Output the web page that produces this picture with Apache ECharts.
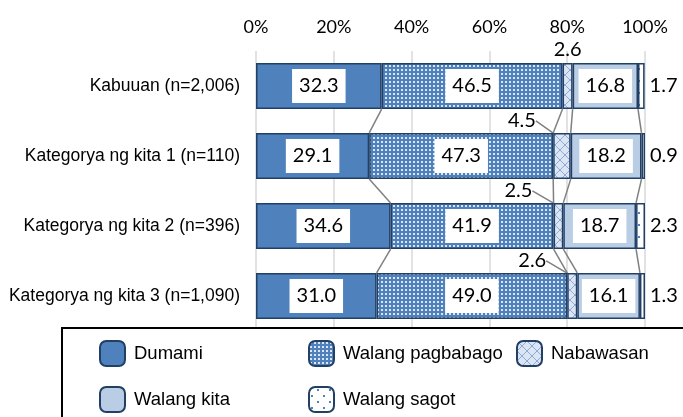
<!DOCTYPE html>
<html>
<head>
<meta charset="utf-8">
<title>Kita</title>
<script src="https://cdn.jsdelivr.net/npm/echarts@6/dist/echarts.min.js"></script>
<style>
    html, body { margin: 0; padding: 0; background: #fff; }
    #main { width: 683px; height: 417px; }
</style>
</head>
<body>
<div id="main"></div>
<script>
    var categories = ['Kabuuan (n=2,006)', 'Kategorya ng kita 1 (n=110)', 'Kategorya ng kita 2 (n=396)', 'Kategorya ng kita 3 (n=1,090)'];
    var seriesNames = ['Dumami', 'Walang pagbabago', 'Nabawasan', 'Walang kita', 'Walang sagot'];
    var dumami = [32.3, 29.1, 34.6, 31.0];
    var walangPagbabago = [46.5, 47.3, 41.9, 49.0];
    var nabawasan = [2.6, 4.5, 2.5, 2.6];
    var walangKita = [16.8, 18.2, 18.7, 16.1];
    var walangSagot = [1.7, 0.9, 2.3, 1.3];
    var xTicks = [0, 20, 40, 60, 80, 100];

    var allValues = [dumami, walangPagbabago, nabawasan, walangKita, walangSagot];

    // pattern fills (Excel-like)
    function makePattern(size, draw) {
        var c = document.createElement('canvas');
        c.width = size; c.height = size;
        draw(c.getContext('2d'));
        return {image: c, repeat: 'repeat'};
    }
    var dotsBlue = makePattern(4, function (g) {
        g.fillStyle = '#4f81bd'; g.fillRect(0, 0, 4, 4);
        g.fillStyle = 'rgba(255,255,255,0.8)'; g.fillRect(1, 1, 2, 2);
    });
    var crossLight = makePattern(10, function (g) {
        g.fillStyle = '#dce6f2'; g.fillRect(0, 0, 10, 10);
        g.strokeStyle = '#8eaad8'; g.lineWidth = 1;
        g.beginPath();
        g.moveTo(0, 0); g.lineTo(10, 10);
        g.moveTo(10, 0); g.lineTo(0, 10);
        g.stroke();
    });
    var dotsWhite = makePattern(12, function (g) {
        g.fillStyle = '#fff'; g.fillRect(0, 0, 12, 12);
        g.fillStyle = '#4f81bd';
        g.fillRect(2, 8, 2, 2); g.fillRect(8, 2, 2, 2);
    });
    var fills = ['#4f81bd', dotsBlue, crossLight, '#b9cde5', dotsWhite];

    function cum(b, r) {
        var s = 0;
        for (var k = 0; k <= b; k++) s += allValues[k][r];
        return s;
    }
    // series lines between neighbouring bars
    var connectors = [];
    for (var b = 0; b < allValues.length - 1; b++) {
        for (var r = 0; r < categories.length - 1; r++) {
            connectors.push([cum(b, r), r, cum(b, r + 1), r + 1]);
        }
    }

    var fmt = function (p) { return Number(p.value).toFixed(1); };
    var boxLabel = {
        show: true, position: 'inside', formatter: fmt, color: '#000',
        fontFamily: 'Lato', fontSize: 20, lineHeight: 20,
        backgroundColor: '#fff', padding: [7, 7, 7, 7]
    };
    var plainLabel = {
        show: true, formatter: fmt, color: '#000',
        fontFamily: 'Lato', fontSize: 20
    };
    var barFrac = 0.66;

    function barSeries(i, label, extra) {
        var s = {
            name: seriesNames[i],
            type: 'bar',
            stack: 'all',
            barCategoryGap: '34%',
            data: allValues[i],
            itemStyle: {color: fills[i], borderColor: '#223f66', borderWidth: 1.5},
            label: label,
            emphasis: {disabled: true}
        };
        for (var k in extra) s[k] = extra[k];
        return s;
    }

    // one legend per slot, laid out in a 3-column grid like the original
    var legendSlots = [[99, 340], [308, 340], [516, 340], [99, 386], [308, 386]];
    var legends = seriesNames.map(function (name, i) {
        return {
            data: [name], left: legendSlots[i][0], top: legendSlots[i][1],
            padding: 0, itemWidth: 25, itemHeight: 25, selectedMode: false,
            textStyle: {color: '#000', fontFamily: 'Liberation Sans', fontSize: 18.5, padding: [0, 0, 0, 4]}
        };
    });

    var myChart = echarts.init(document.getElementById('main'));
    var option = {
        animation: false,
        grid: {left: 256, right: 38, top: 51, height: 280},
        xAxis: {
            type: 'value', position: 'top',
            min: xTicks[0], max: xTicks[xTicks.length - 1], interval: xTicks[1] - xTicks[0],
            axisLine: {show: false}, axisTick: {show: false},
            splitLine: {lineStyle: {color: '#d9d9d9', width: 1.5}},
            axisLabel: {formatter: '{value}%', color: '#000', fontFamily: 'Lato', fontSize: 18, margin: 15}
        },
        yAxis: {
            type: 'category', inverse: true, data: categories,
            axisLine: {show: false}, axisTick: {show: false},
            axisLabel: {color: '#000', fontFamily: 'Liberation Sans', fontSize: 17.5, margin: 16}
        },
        legend: legends,
        graphic: [{
            type: 'rect', z: 3,
            shape: {x: 62, y: 328, width: 700, height: 200},
            style: {fill: '#fff', stroke: '#000', lineWidth: 2}
        }],
        series: [
            barSeries(0, boxLabel),
            barSeries(1, boxLabel),
            barSeries(2, Object.assign({}, plainLabel, {position: 'top', distance: 3}), {
                data: nabawasan.map(function (v, i) {
                    return {value: v, labelLine: {show: i > 0}};
                }),
                labelLayout: function (p) {
                    if (p.dataIndex === 0) return {};
                    return {dx: -40, dy: 1};
                },
                labelLine: {show: true, lineStyle: {color: '#808080', width: 1.5}}
            }),
            barSeries(3, boxLabel),
            barSeries(4, Object.assign({}, plainLabel, {position: 'right', distance: 5})),
            {
                type: 'custom',
                silent: true,
                z: 1,
                data: connectors,
                encode: {x: [0, 2], y: [1, 3]},
                renderItem: function (params, api) {
                    var p1 = api.coord([api.value(0), api.value(1)]);
                    var p2 = api.coord([api.value(2), api.value(3)]);
                    var half = api.size([0, 1])[1] * barFrac / 2;
                    return {
                        type: 'line',
                        shape: {x1: p1[0], y1: p1[1] + half, x2: p2[0], y2: p2[1] - half},
                        style: {stroke: '#808080', lineWidth: 1.5}
                    };
                }
            }
        ]
    };
    myChart.setOption(option);
</script>
</body>
</html>
